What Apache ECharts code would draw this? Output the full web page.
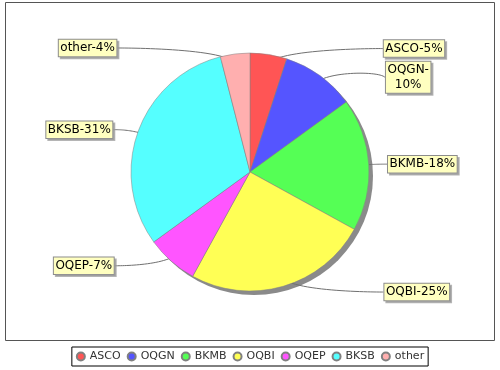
<!DOCTYPE html>
<html><head><meta charset="utf-8">
<script src="https://cdn.jsdelivr.net/npm/echarts@6/dist/echarts.min.js"></script>
<style>html,body{margin:0;padding:0;background:#fff}#c{width:500px;height:370px}</style>
</head><body><div id="c"></div>
<script>
const categories = ['ASCO', 'OQGN', 'BKMB', 'OQBI', 'OQEP', 'BKSB', 'other'];
const values = [5, 10, 18, 25, 7, 31, 4];
const colors = ['#FF5555', '#5555FF', '#55FF55', '#FFFF55', '#FF55FF', '#55FFFF', '#FFAFAF'];

const FONT = 'DejaVu Sans';
const CX = 250, CY = 172, R = 119;
const LINK_R = 125;
const LABEL_FS = 12, LINE_H = 14.5, PAD_V = 1, PAD_H = 1.5, GAP = 5, MAX_W = 67;

const cvs = document.createElement('canvas').getContext('2d');
cvs.font = LABEL_FS + 'px "' + FONT + '"';
const total = values.reduce((a, b) => a + b, 0);
let acc = 0;
const labelInfo = values.map((v, i) => {
  const mid = (acc + v / 2) / total * 2 * Math.PI; acc += v;
  const s = Math.sin(mid), c = Math.cos(mid);
  const side = s >= 0 ? 1 : -1;
  const pct = Math.round(v / total * 100);
  let text = categories[i] + '-' + pct + '%';
  if (cvs.measureText(text).width > MAX_W) text = text.replace('-', '-\n');
  const lines = text.split('\n').length;
  return { s, c, side, text, h: lines * LINE_H + PAD_V * 2, y: CY - LINK_R * c };
});
[1, -1].forEach(side => {
  const items = labelInfo.filter(d => d.side === side).sort((a, b) => a.y - b.y);
  for (let k = 1; k < items.length; k++) {
    const p = items[k - 1], cur = items[k];
    const minY = p.y + p.h / 2 + GAP + cur.h / 2;
    if (cur.y < minY) cur.y = minY;
  }
});

function cubic(p0, p1, p2, p3, t) {
  const u = 1 - t;
  const a = u * u * u, b = 3 * u * u * t, c = 3 * u * t * t, d = t * t * t;
  return [a * p0[0] + b * p1[0] + c * p2[0] + d * p3[0], a * p0[1] + b * p1[1] + c * p2[1] + d * p3[1]];
}

const chart = echarts.init(document.getElementById('c'), null, { renderer: 'canvas' });
chart.setOption({
  animation: false,
  backgroundColor: '#fff',
  graphic: [{
    type: 'rect', silent: true, z: 0,
    shape: { x: 5.5, y: 2.5, width: 489, height: 338 },
    style: { fill: 'transparent', stroke: '#555', lineWidth: 1 }
  }],
  legend: {
    data: categories, left: 'center', top: 347, orient: 'horizontal',
    icon: 'circle', itemWidth: 8, itemHeight: 8, itemGap: 6,
    padding: [4, 4], borderColor: '#000', borderWidth: 1, borderRadius: 0,
    selectedMode: false,
    textStyle: { fontFamily: FONT, fontSize: 11, color: '#333' }
  },
  series: [
    {
      type: 'pie', silent: true, center: [CX + 4, CY + 4], radius: R, z: 1,
      label: { show: false }, labelLine: { show: false },
      itemStyle: { color: '#8a8a8a' },
      emphasis: { disabled: true },
      data: [{ name: '_shadow', value: total }]
    },
    {
      type: 'pie', silent: true, center: [CX, CY], radius: R, z: 2,
      startAngle: 90, clockwise: true, avoidLabelOverlap: false, minShowLabelAngle: 0,
      data: categories.map((n, i) => ({ name: n, value: values[i], itemStyle: { color: colors[i] } })),
      itemStyle: { borderColor: '#808080', borderWidth: 0.5 },
      emphasis: { disabled: true },
      label: {
        show: true, position: 'outside',
        formatter: p => labelInfo[p.dataIndex].text,
        fontFamily: FONT, fontSize: LABEL_FS, color: '#000', lineHeight: LINE_H, align: 'center',
        backgroundColor: '#FFFFC0', borderColor: '#8c8c8c', borderWidth: 1,
        padding: [PAD_V, PAD_H, PAD_V, PAD_H],
        shadowColor: 'rgba(150,150,150,0.7)', shadowOffsetX: 2, shadowOffsetY: 2, shadowBlur: 0
      },
      labelLine: { show: true, length: 5, length2: 5, smooth: false, lineStyle: { color: '#707070', width: 1 } },
      labelLayout: function (p) {
        const d = labelInfo[p.dataIndex];
        const w = p.labelRect.width;
        const edgeX = CX + d.side * (132 + 5 * Math.abs(d.s));
        const target = [edgeX, d.y];
        const link = [CX + 0.9 * R * d.s, CY - 0.9 * R * d.c];
        const elbow = [CX + LINK_R * d.s, CY - LINK_R * d.c];
        const anchor = [edgeX - d.side * 6, elbow[1]];
        const pts = [];
        for (let k = 0; k <= 30; k++) pts.push(cubic(target, anchor, elbow, link, k / 30));
        return {
          x: edgeX + d.side * w / 2, y: d.y, align: 'center', verticalAlign: 'middle',
          labelLinePoints: pts
        };
      }
    }
  ]
});
</script></body></html>
